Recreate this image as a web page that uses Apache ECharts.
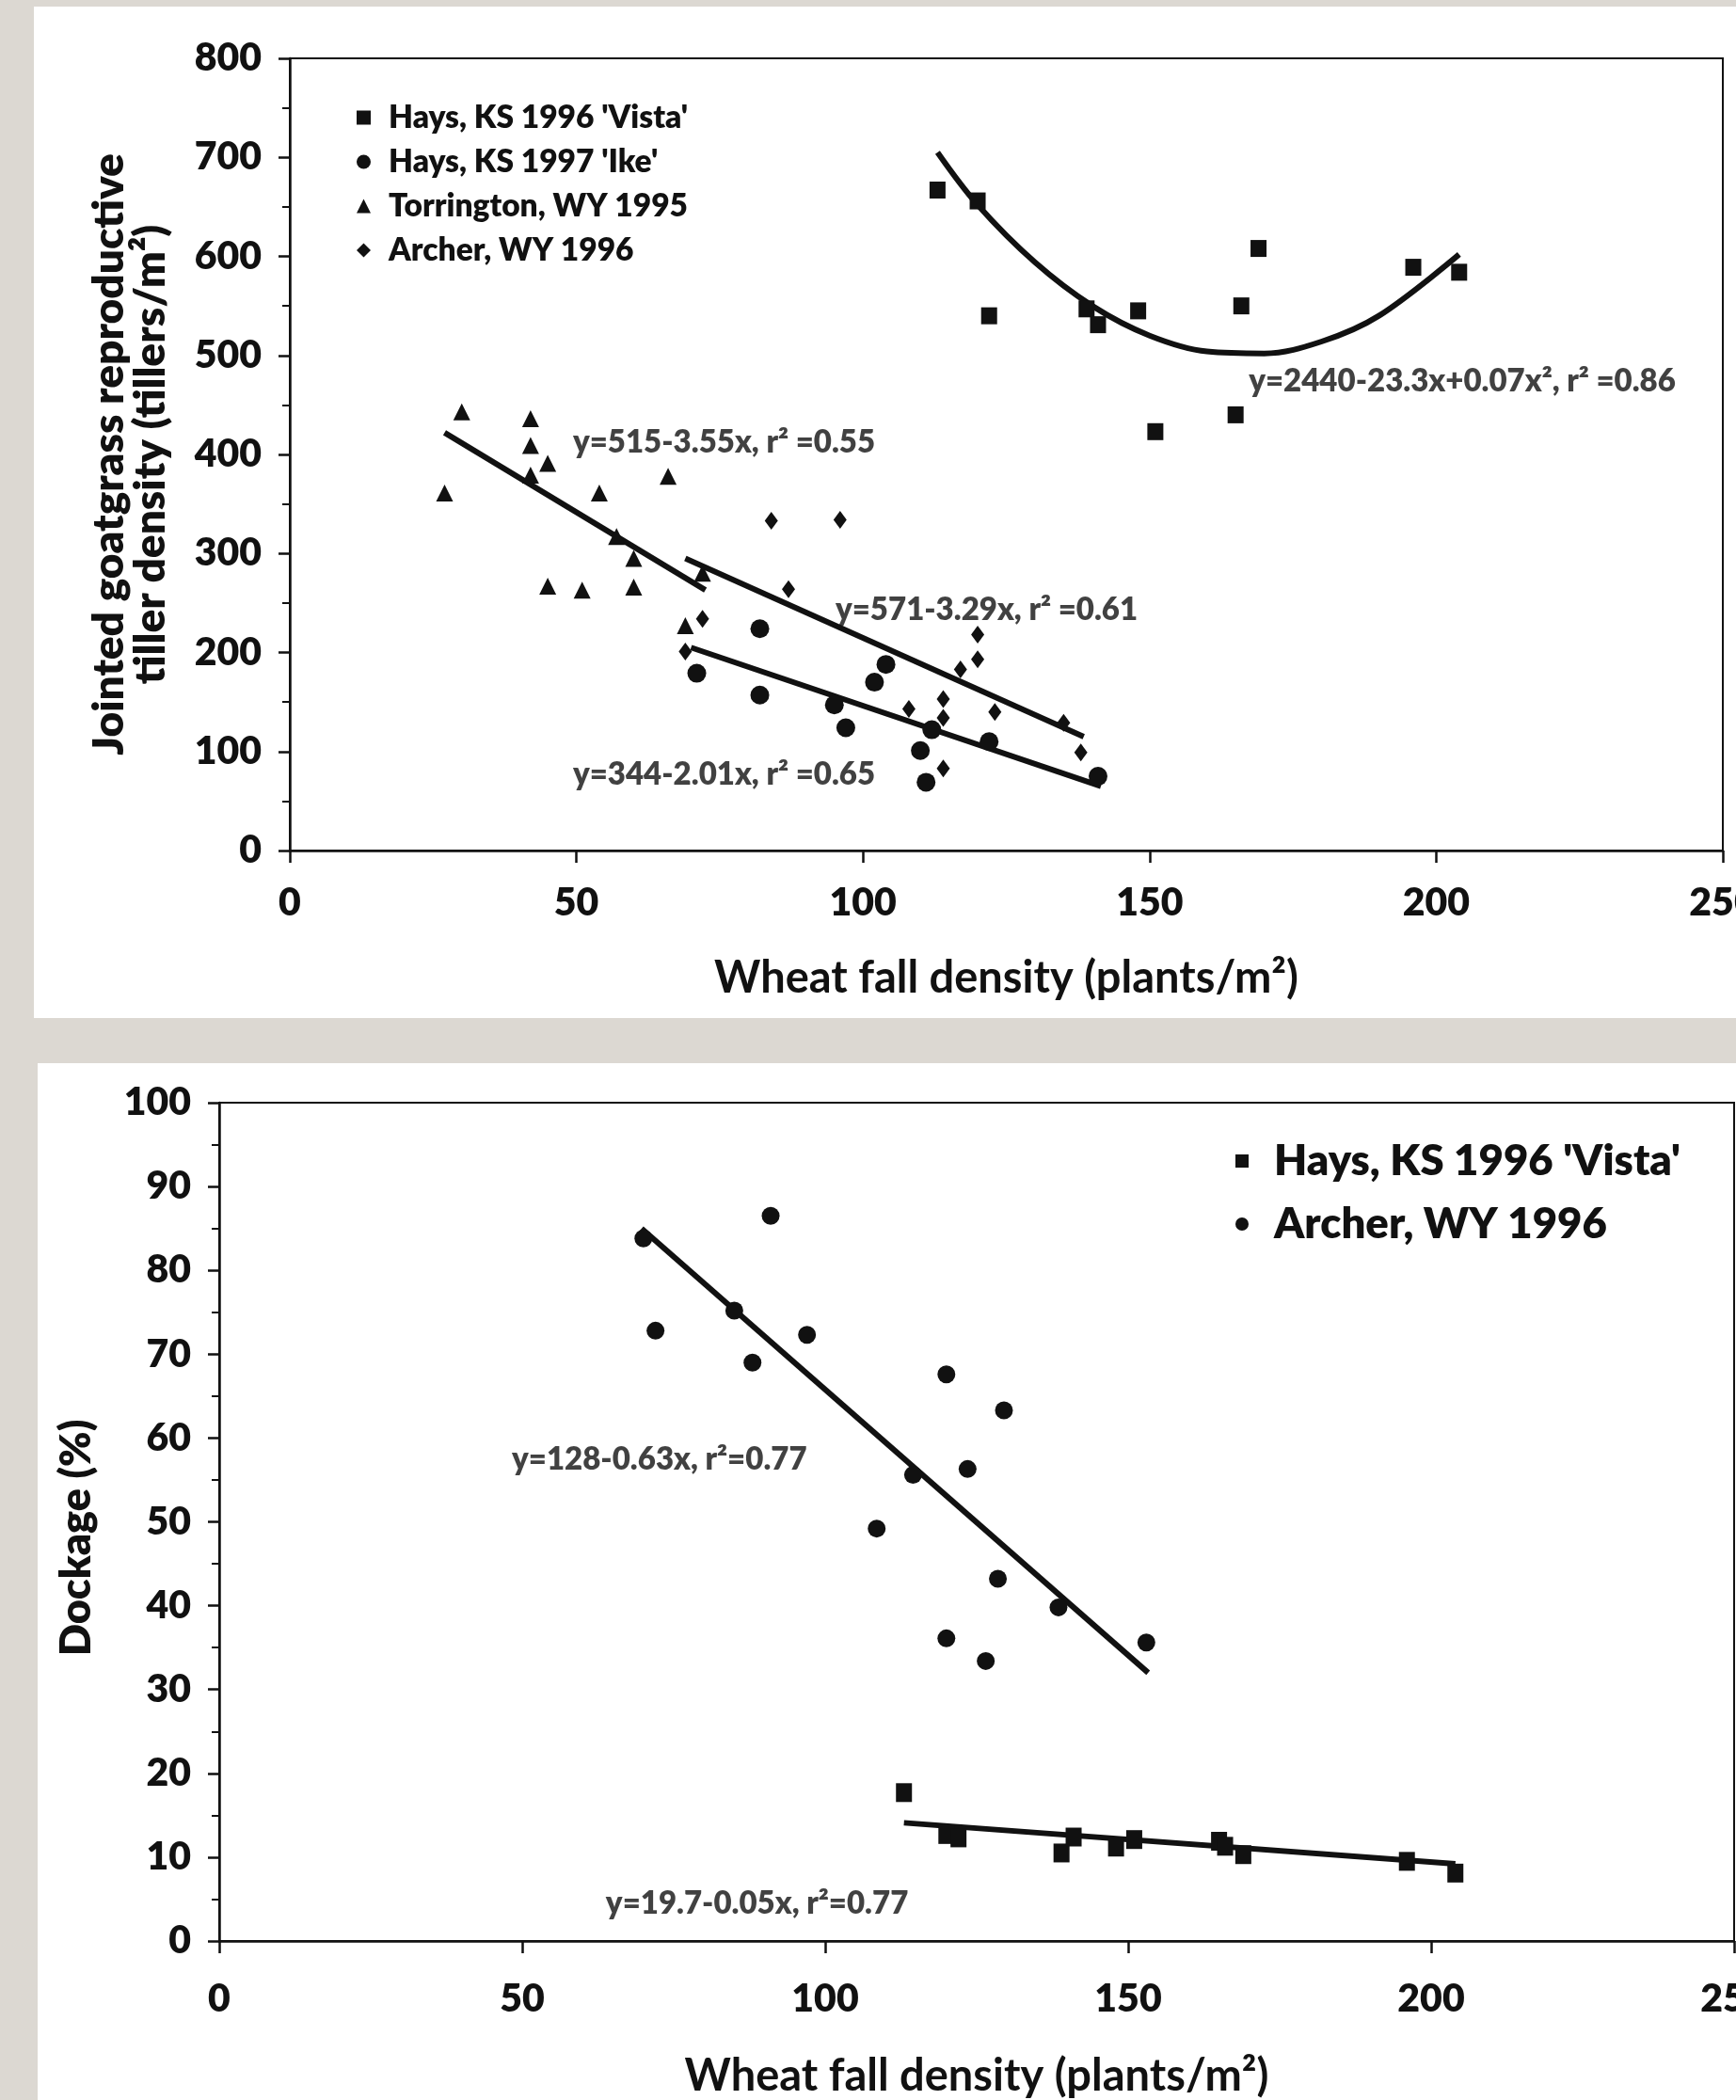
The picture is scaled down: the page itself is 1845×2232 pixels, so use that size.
<!DOCTYPE html>
<html>
<head>
<meta charset="utf-8">
<title>Jointed goatgrass vs wheat fall density</title>
<script src="https://cdn.jsdelivr.net/npm/echarts@6/dist/echarts.min.js"></script>
<style>
html, body { margin: 0; padding: 0; background: #dcd8d2; }
#chart { width: 1845px; height: 2232px; }
</style>
</head>
<body>
<div id="chart"></div>
<script>
// ---- top panel: tiller density (tillers/m2) vs wheat fall density ----
var vistaX       = [113, 120, 122, 139, 141, 148, 151, 165, 166, 169, 196, 204];
var vistaTillers = [667, 656, 540, 547, 531, 545, 423, 440, 550, 608, 589, 584];

var ikeX       = [71, 82, 82, 95, 97, 102, 104, 112, 110, 111, 122, 141];
var ikeTillers = [179, 224, 157, 147, 124, 170, 188, 122, 101, 69, 110, 75];

var torrX       = [27, 30, 42, 42, 42, 45, 45, 51, 54, 57, 60, 60, 66, 69, 72];
var torrTillers = [361, 443, 436, 409, 379, 391, 267, 263, 361, 317, 295, 266, 378, 227, 280];

var archerX       = [84, 96, 87, 72, 69, 108, 114, 114, 117, 120, 120, 123, 135, 138, 114];
var archerTillers = [333, 334, 264, 234, 201, 143, 153, 134, 183, 193, 218, 140, 129, 99, 83];

// fitted curves
var vistaCurveX = [113, 120, 130, 140, 150, 160, 170, 180, 190, 204];
var vistaCurveY = [705, 652, 594, 550, 520, 504, 502, 514, 540, 602];
var torrFitX    = [27, 72.5];
var torrFitY    = [422, 263];
var archerFitX  = [69, 138.5];
var archerFitY  = [295, 115];
var ikeFitX     = [70, 141.5];
var ikeFitY     = [205, 65];

// ---- bottom panel: dockage (%) ----
var vistaDockage = [17.7, 12.7, 12.3, 10.5, 12.4, 11.2, 12.1, 11.9, 11.3, 10.3, 9.5, 8.1];

var archerDockX = [70, 72, 85, 88, 91, 97, 108.5, 114.5, 120, 120, 123.5, 126.5, 128.5, 129.5, 138.5, 153];
var archerDock  = [83.8, 72.8, 75.2, 69, 86.5, 72.3, 49.2, 55.6, 67.6, 36.1, 56.3, 33.4, 43.2, 63.3, 39.8, 35.6];

var archerDockFitX = [69.7, 153.3];
var archerDockFitY = [85, 32];
var vistaDockFitX  = [113, 204];
var vistaDockFitY  = [14.1, 9.2];

// tick labels
var xTicks      = [0, 50, 100, 150, 200, 250];
var tillerTicks = [0, 100, 200, 300, 400, 500, 600, 700, 800];
var dockTicks   = [0, 10, 20, 30, 40, 50, 60, 70, 80, 90, 100];

// equation labels, anchored at data coordinates
var topNotes = [
  [167.3, 474, 'y=2440-23.3x+0.07x², r² =0.86'],
  [49.4, 412, 'y=515-3.55x, r² =0.55'],
  [95.2, 243, 'y=571-3.29x, r² =0.61'],
  [49.4, 77, 'y=344-2.01x, r² =0.65']
];
var bottomNotes = [
  [48.3, 57.4, 'y=128-0.63x, r²=0.77'],
  [63.8, 4.4, 'y=19.7-0.05x, r²=0.77']
];

var NAMES = ["Hays, KS 1996 'Vista'", "Hays, KS 1997 'Ike'", 'Torrington, WY 1995', 'Archer, WY 1996'];
var INK = '#111';
var FONT = 'Lato';
var HEAVY = 800;

function pairs(xs, ys) {
  return xs.map(function (x, i) { return [x, ys[i]]; });
}

function scatter(name, xs, ys, idx, symbol, size) {
  return {
    type: 'scatter', name: name, xAxisIndex: idx, yAxisIndex: idx,
    symbol: symbol, symbolSize: size,
    itemStyle: { color: INK, opacity: 1 },
    data: pairs(xs, ys), z: 4
  };
}

function fit(xs, ys, idx, smooth) {
  return {
    type: 'line', xAxisIndex: idx, yAxisIndex: idx,
    data: pairs(xs, ys), smooth: smooth ? 0.35 : false,
    showSymbol: false, symbol: 'none',
    lineStyle: { color: INK, width: 6 },
    z: 3, silent: true
  };
}

function notes(list, idx) {
  return {
    type: 'scatter', xAxisIndex: idx, yAxisIndex: idx,
    symbolSize: 0, silent: true, z: 5,
    data: list.map(function (n) {
      return {
        value: [n[0], n[1]],
        label: {
          show: true, position: 'right', distance: 0, formatter: n[2],
          color: INK, fontFamily: FONT, fontWeight: HEAVY, fontSize: 33
        }
      };
    })
  };
}

function xAxis(idx, ticks, labelMargin, nameGap) {
  return {
    type: 'value', gridIndex: idx,
    min: ticks[0], max: ticks[ticks.length - 1], interval: ticks[1] - ticks[0],
    name: 'Wheat fall density (plants/m²)', nameLocation: 'middle', nameGap: nameGap,
    nameTextStyle: { color: INK, fontFamily: FONT, fontWeight: 'bold', fontSize: 47 },
    axisLine: { show: true, lineStyle: { color: INK, width: 2.5 } },
    axisTick: { show: true, length: 13, lineStyle: { color: INK, width: 2.5 } },
    axisLabel: { color: INK, fontFamily: FONT, fontWeight: HEAVY, fontSize: 41,
      margin: labelMargin, showMaxLabel: true, showMinLabel: true },
    splitLine: { show: false }
  };
}

function yAxis(idx, ticks, name, nameGap, nameSize, namePad) {
  return {
    type: 'value', gridIndex: idx,
    min: ticks[0], max: ticks[ticks.length - 1], interval: ticks[1] - ticks[0],
    name: name, nameLocation: 'middle', nameGap: nameGap, nameRotate: 90,
    nameTextStyle: { color: INK, fontFamily: FONT, fontWeight: HEAVY, fontSize: nameSize,
      lineHeight: 44, padding: namePad },
    axisLine: { show: true, lineStyle: { color: INK, width: 2.5 } },
    axisTick: { show: true, length: 12, lineStyle: { color: INK, width: 2.5 } },
    minorTick: { show: true, splitNumber: 2, length: 8, lineStyle: { color: INK, width: 2 } },
    axisLabel: { color: INK, fontFamily: FONT, fontWeight: HEAVY, fontSize: 41, margin: 30,
      showMaxLabel: true, showMinLabel: true },
    splitLine: { show: false }
  };
}

var chart = echarts.init(document.getElementById('chart'), null, { renderer: 'canvas' });

var option = {
  animation: false,
  backgroundColor: '#dcd8d2',
  graphic: [
    { type: 'rect', z: -10, silent: true, shape: { x: 36, y: 7, width: 1809, height: 1075 }, style: { fill: '#fff' } },
    { type: 'rect', z: -10, silent: true, shape: { x: 40, y: 1130, width: 1805, height: 1102 }, style: { fill: '#fff' } }
  ],
  grid: [
    { left: 308, top: 62, width: 1523, height: 842, show: true, borderColor: INK, borderWidth: 2,
      backgroundColor: 'transparent', containLabel: false, outerBoundsMode: 'none' },
    { left: 233, top: 1172, width: 1610, height: 891, show: true, borderColor: INK, borderWidth: 2,
      backgroundColor: 'transparent', containLabel: false, outerBoundsMode: 'none' }
  ],
  legend: [
    {
      left: 374, top: 103, orient: 'vertical', selectedMode: false,
      itemWidth: 15, itemHeight: 15, itemGap: 13,
      textStyle: { color: INK, fontFamily: FONT, fontWeight: HEAVY, fontSize: 33.5, padding: [0, 0, 0, 14] },
      data: [
        { name: NAMES[0], icon: 'rect' },
        { name: NAMES[1], icon: 'circle' },
        { name: NAMES[2], icon: 'triangle' },
        { name: NAMES[3], icon: 'diamond' }
      ]
    },
    {
      left: 1308, top: 1206, orient: 'vertical', selectedMode: false,
      itemWidth: 14, itemHeight: 14, itemGap: 21,
      textStyle: { color: INK, fontFamily: FONT, fontWeight: HEAVY, fontSize: 45.5, padding: [0, 0, 0, 22] },
      data: [
        { name: NAMES[0], icon: 'rect' },
        { name: NAMES[3], icon: 'circle' }
      ]
    }
  ],
  xAxis: [
    xAxis(0, xTicks, 35, 112),
    xAxis(1, xTicks, 41, 120)
  ],
  yAxis: [
    yAxis(0, tillerTicks, 'Jointed goatgrass reproductive\ntiller density (tillers/m²)', 126, 46, 0),
    yAxis(1, dockTicks, 'Dockage (%)', 130, 45, [0, 34, 0, 0])
  ],
  series: [
    scatter(NAMES[0], vistaX, vistaTillers, 0, 'rect', [17, 18]),
    scatter(NAMES[1], ikeX, ikeTillers, 0, 'circle', 20),
    scatter(NAMES[2], torrX, torrTillers, 0, 'triangle', 18),
    scatter(NAMES[3], archerX, archerTillers, 0, 'diamond', [14, 19]),
    fit(vistaCurveX, vistaCurveY, 0, true),
    fit(torrFitX, torrFitY, 0, false),
    fit(archerFitX, archerFitY, 0, false),
    fit(ikeFitX, ikeFitY, 0, false),
    notes(topNotes, 0),

    scatter(NAMES[0], vistaX, vistaDockage, 1, 'rect', [17, 20]),
    scatter(NAMES[3], archerDockX, archerDock, 1, 'circle', 19),
    fit(archerDockFitX, archerDockFitY, 1, false),
    fit(vistaDockFitX, vistaDockFitY, 1, false),
    notes(bottomNotes, 1)
  ]
};

chart.setOption(option);
window.addEventListener('resize', function () { chart.resize(); });
</script>
</body>
</html>
